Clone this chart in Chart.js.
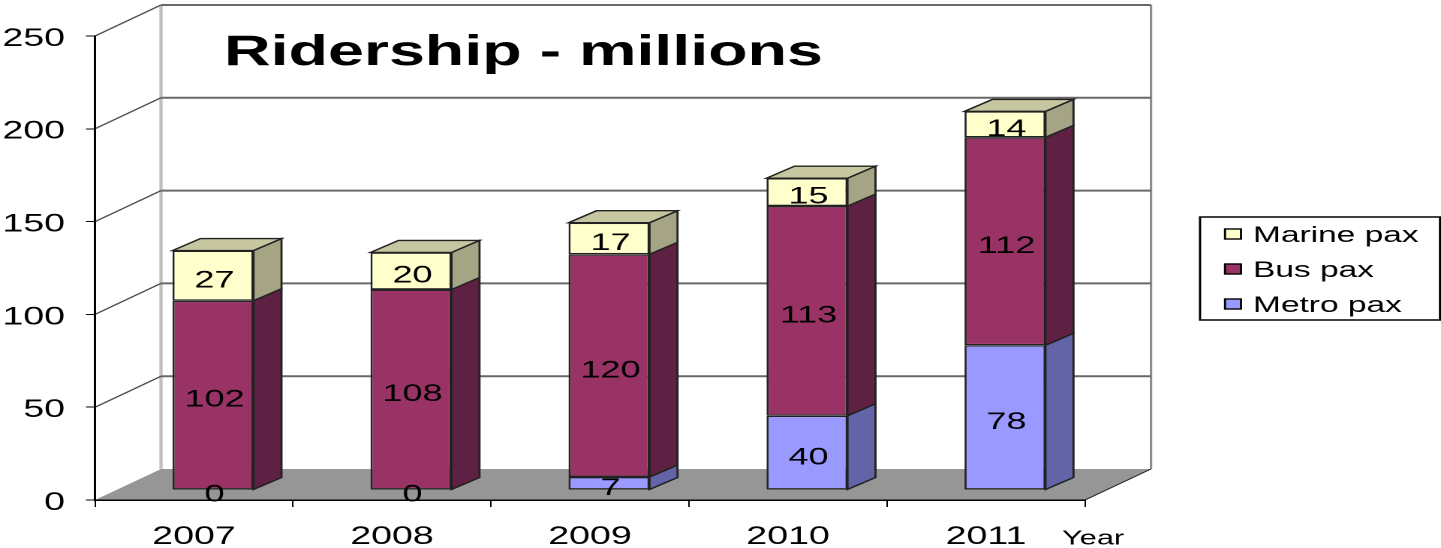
<!DOCTYPE html>
<html>
<head>
<meta charset="utf-8">
<title>Ridership - millions</title>
<style>
  html, body { margin: 0; padding: 0; background: #fff; overflow: hidden; }
  /* the original picture is stretched sideways, so the whole canvas is too */
  #chart { display: block; width: 1441px !important; height: 548px !important; }
</style>
<script src="https://cdn.jsdelivr.net/npm/chart.js@4/dist/chart.umd.min.js"></script>
</head>
<body>
<canvas id="chart" width="960" height="548"></canvas>
<script>
const YEARS = ['2007', '2008', '2009', '2010', '2011'];
const METRO = [0, 0, 7, 40, 78];
const BUS = [102, 108, 120, 113, 112];
const MARINE = [27, 20, 17, 15, 14];
const Y_TICKS = [0, 50, 100, 150, 200, 250];

const TITLE = 'Ridership - millions';
const X_NAME = 'Year';
const FONT = '"Liberation Sans", Arial, sans-serif';

// horizontal stretch between canvas units and screen pixels
const SX = 1441 / 960;
const px = v => v / SX;

// 3D offsets, in canvas units
const WALL_DX = px(66), WALL_DY = -31;
const BAR_SHIFT_X = px(19), BAR_SHIFT_Y = -10;
const BAR_DX = px(28), BAR_DY = -12;

const SERIES_STYLE = [
  { front: '#9999ff', side: '#6363a8', top: '#7f7fd0' },
  { front: '#993366', side: '#5f2143', top: '#7a2952' },
  { front: '#ffffcc', side: '#a5a585', top: '#c6c6a0' }
];

function poly(ctx, pts, fill, stroke) {
  ctx.beginPath();
  pts.forEach((p, i) => i ? ctx.lineTo(p[0], p[1]) : ctx.moveTo(p[0], p[1]));
  ctx.closePath();
  ctx.fillStyle = fill;
  ctx.fill();
  if (stroke) {
    ctx.strokeStyle = stroke;
    ctx.lineWidth = 1.4;
    ctx.stroke();
  }
}

function line(ctx, x1, y1, x2, y2, color, width) {
  ctx.beginPath();
  ctx.moveTo(x1, y1);
  ctx.lineTo(x2, y2);
  ctx.strokeStyle = color;
  ctx.lineWidth = width;
  ctx.stroke();
}

// back wall, side wall, floor
const wallsPlugin = {
  id: 'walls',
  beforeDraw(chart) {
    const { ctx, chartArea: a, scales } = chart;
    const y = scales.y;
    const y0 = y.getPixelForValue(0);
    ctx.save();
    poly(ctx, [[a.left, y0], [a.left + WALL_DX, y0 + WALL_DY],
      [a.right + WALL_DX, y0 + WALL_DY], [a.right, y0]], '#969696');
    line(ctx, a.left + WALL_DX, y.getPixelForValue(250) + WALL_DY,
      a.left + WALL_DX, y0 + WALL_DY, '#c0c0c0', 2.2);
    line(ctx, a.right + WALL_DX, y.getPixelForValue(250) + WALL_DY,
      a.right + WALL_DX, y0 + WALL_DY, '#8c8c8c', 1.6);
    Y_TICKS.forEach(t => {
      const py = y.getPixelForValue(t);
      if (t > 0) {
        line(ctx, a.left, py, a.left + WALL_DX, py + WALL_DY, '#4a4a4a', 1.2);
        line(ctx, a.left + WALL_DX, py + WALL_DY, a.right + WALL_DX, py + WALL_DY, '#686868', 2);
      }
    });
    line(ctx, a.right, y0, a.right + WALL_DX, y0 + WALL_DY, '#222', 1);
    ctx.restore();
  }
};

// side and top faces, bars are moved back into the box a bit
const barsPlugin = {
  id: 'bars3d',
  beforeDatasetsDraw(chart) {
    const { ctx } = chart;
    ctx.save();
    ctx.translate(BAR_SHIFT_X, BAR_SHIFT_Y);
    chart.data.datasets.forEach((ds, i) => {
      const st = SERIES_STYLE[i];
      chart.getDatasetMeta(i).data.forEach((el, j) => {
        if (!ds.data[j]) return;
        const right = el.x + el.width / 2, left = el.x - el.width / 2;
        poly(ctx, [[right, el.base], [right, el.y], [right + BAR_DX, el.y + BAR_DY],
          [right + BAR_DX, el.base + BAR_DY]], st.side, '#222');
        if (i === chart.data.datasets.length - 1) {
          poly(ctx, [[left, el.y], [left + BAR_DX, el.y + BAR_DY],
            [right + BAR_DX, el.y + BAR_DY], [right, el.y]], st.top, '#222');
        }
      });
    });
  },
  afterDatasetsDraw(chart) {
    const { ctx } = chart;
    ctx.font = '24px ' + FONT;
    ctx.fillStyle = '#000';
    ctx.textAlign = 'center';
    ctx.textBaseline = 'middle';
    chart.data.datasets.forEach((ds, i) => {
      chart.getDatasetMeta(i).data.forEach((el, j) => {
        ctx.fillText(String(ds.data[j]), el.x + 1, (el.y + el.base) / 2 + 5);
      });
    });
    ctx.restore();
  }
};

// title, axis name and legend sit at fixed spots like in the original
const labelsPlugin = {
  id: 'labels',
  afterDraw(chart) {
    const { ctx } = chart;
    ctx.save();
    ctx.fillStyle = '#000';
    ctx.textBaseline = 'middle';
    ctx.textAlign = 'left';
    ctx.font = 'bold 43px ' + FONT;
    ctx.fillText(TITLE, px(224), 53);
    ctx.font = '20.5px ' + FONT;
    ctx.fillText(X_NAME, px(1062), 539);

    ctx.strokeStyle = '#000';
    ctx.lineWidth = 1.5;
    ctx.strokeRect(px(1200), 217, px(240), 103);
    ctx.font = '22.3px ' + FONT;
    const rows = chart.data.datasets.slice().reverse();
    const styles = SERIES_STYLE.slice().reverse();
    rows.forEach((ds, i) => {
      const cy = 234 + i * 35;
      ctx.fillStyle = styles[i].front;
      ctx.lineWidth = 1.4;
      ctx.fillRect(px(1225), cy - 5, px(16), 10);
      ctx.strokeRect(px(1225), cy - 5, px(16), 10);
      ctx.fillStyle = '#000';
      ctx.fillText(ds.label, px(1253), cy + 2);
    });
    ctx.restore();
  }
};

const sets = [
  { label: 'Metro pax', data: METRO },
  { label: 'Bus pax', data: BUS },
  { label: 'Marine pax', data: MARINE }
].map((d, i) => ({
  ...d,
  backgroundColor: SERIES_STYLE[i].front,
  borderColor: '#222',
  borderWidth: 1.4,
  borderSkipped: false,
  clip: false
}));

new Chart(document.getElementById('chart'), {
  type: 'bar',
  data: { labels: YEARS, datasets: sets },
  plugins: [wallsPlugin, barsPlugin, labelsPlugin],
  options: {
    responsive: false,
    animation: false,
    devicePixelRatio: 2,
    layout: { padding: { top: 36, right: 960 - px(1085), bottom: 0, left: 0 } },
    categoryPercentage: 1,
    barPercentage: 0.409,
    plugins: { legend: { display: false }, title: { display: false }, tooltip: { enabled: false } },
    scales: {
      x: {
        stacked: true,
        afterFit: s => { s.height = 48; },
        grid: { drawOnChartArea: false, color: '#000', tickLength: 7, offset: true },
        border: { color: '#000', width: 1.5 },
        ticks: { color: '#000', padding: 15, maxRotation: 0, font: { family: FONT, size: 25 } }
      },
      y: {
        stacked: true,
        min: 0,
        max: 250,
        afterFit: s => { s.width = px(95); },
        grid: { drawOnChartArea: false, color: '#000', tickLength: px(9) },
        border: { color: '#000', width: 1.5 },
        ticks: { color: '#000', stepSize: 50, padding: px(21), labelOffset: 3, font: { family: FONT, size: 25 } }
      }
    }
  }
});
</script>
</body>
</html>
